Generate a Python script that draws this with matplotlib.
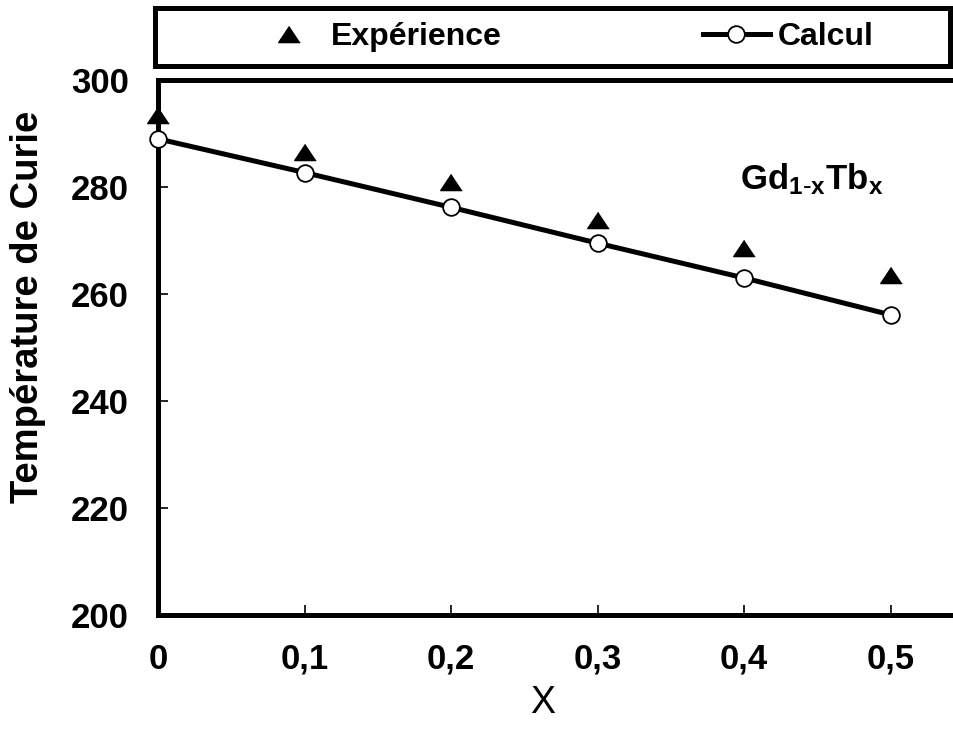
import numpy as np
import matplotlib
matplotlib.use("Agg")
import matplotlib.pyplot as plt

plt.rcParams['font.family'] = ['Liberation Sans', 'DejaVu Sans']
plt.rcParams['mathtext.default'] = 'regular'

# ===================== DONNEES =====================
x_vals = [0.0, 0.1, 0.2, 0.3, 0.4, 0.5]
t_experience = [293.5, 286.6, 281.0, 273.9, 268.6, 263.6]
t_calcul = [289.0, 282.7, 276.2, 269.5, 263.0, 256.1]

x_ticks = [0.0, 0.1, 0.2, 0.3, 0.4, 0.5]
x_ticklabels = ["0", "0,1", "0,2", "0,3", "0,4", "0,5"]
y_ticks = [200, 220, 240, 260, 280, 300]

W, H = 954, 730
fig = plt.figure(figsize=(W / 100, H / 100), dpi=100)

# axes principal (le bord droit sort de l'image)
x0, x1 = 158, 964
y_top, y_bot = 80, 615
ax = fig.add_axes([x0 / W, 1 - y_bot / H, (x1 - x0) / W, (y_bot - y_top) / H])

tri = [(0, 0.75), (-1, -0.75), (1, -0.75)]
ax.plot(x_vals, t_experience, linestyle="none", marker=tri, markersize=15.5,
        color="black", label="Expérience", clip_on=False, zorder=4)
ax.plot(x_vals, t_calcul, color="black", lw=3.6, marker="o", markersize=12,
        markerfacecolor="white", markeredgecolor="black", markeredgewidth=1.3,
        label="Calcul", clip_on=False, zorder=3)

ax.set_xlim(0, 0.55)
ax.set_ylim(200, 300)
ax.set_xticks(x_ticks)
ax.set_xticklabels(x_ticklabels)
ax.set_yticks(y_ticks)
ax.tick_params(axis="both", direction="in", length=7, width=1.2, labelsize=25)
ax.tick_params(axis="x", pad=20)
ax.tick_params(axis="y", pad=21)
for lab in ax.get_xticklabels() + ax.get_yticklabels():
    lab.set_fontweight("bold")

for s in ["left", "bottom", "top"]:
    ax.spines[s].set_linewidth(3.6)
ax.spines["right"].set_visible(False)

ax.text(0.397, 279.5, r"Gd$_{1\text{-}x}$Tb$_x$", fontsize=25, fontweight="bold",
        ha="left", va="baseline")

fig.text(28 / W, 1 - 307 / H, "Température de Curie", rotation=90,
         fontsize=27.5, fontweight="bold", ha="center", va="center")
fig.text(543 / W, 1 - 703 / H, "X", fontsize=27, ha="center", va="center")

# ===================== BOITE DE LEGENDE =====================
bx0, bx1, by0, by1 = 155, 950, 8, 66
ax_leg = fig.add_axes([bx0 / W, 1 - by1 / H, (bx1 - bx0) / W, (by1 - by0) / H])
ax_leg.set_xticks([])
ax_leg.set_yticks([])
for s in ax_leg.spines.values():
    s.set_linewidth(3.6)

handles, labels = ax.get_legend_handles_labels()
leg = ax_leg.legend(handles, labels, loc="center", bbox_to_anchor=(0.515, 0.5),
                    ncol=2, frameon=False, handlelength=2.1, handletextpad=0.25,
                    columnspacing=6.3, prop={"size": 23, "weight": "bold"})

fig.savefig("out.png", dpi=100)
